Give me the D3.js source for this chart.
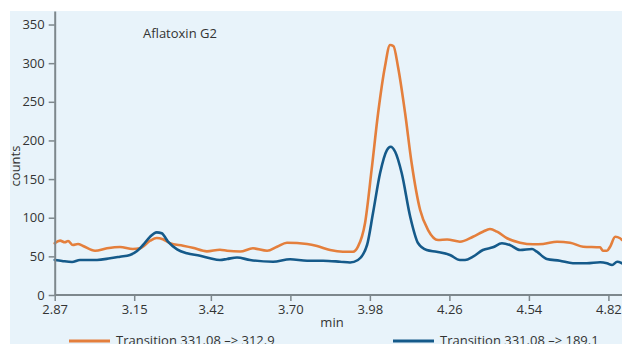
<!DOCTYPE html>
<html>
<head>
<meta charset="utf-8">
<script src="https://cdn.jsdelivr.net/npm/d3@7"></script>
<style>
  html, body { margin: 0; padding: 0; background: #ffffff; }
  svg { display: block; font-family: "Open Sans", "Noto Sans", sans-serif; }
</style>
</head>
<body>
<svg id="chart" width="622" height="344"></svg>
<script>
// Retention times (min) and intensities (counts) for each MRM transition
const timeA = [2.87, 2.889, 2.906, 2.917, 2.934, 2.952, 2.970, 3.012, 3.054, 3.100, 3.145, 3.170, 3.206, 3.229, 3.251, 3.276, 3.322, 3.356, 3.406, 3.452, 3.477, 3.523, 3.568, 3.618, 3.653, 3.688, 3.759, 3.794, 3.840, 3.885, 3.921, 3.938, 3.963, 3.986, 4.009, 4.033, 4.051, 4.063, 4.079, 4.104, 4.127, 4.157, 4.185, 4.220, 4.252, 4.297, 4.343, 4.378, 4.403, 4.428, 4.463, 4.509, 4.555, 4.590, 4.639, 4.685, 4.731, 4.791, 4.801, 4.815, 4.826, 4.844, 4.861, 4.868];
const countsA = [66.9, 70.3, 68.2, 69.9, 64.7, 66.0, 63.4, 57.3, 60.4, 62.1, 59.5, 60.4, 70.3, 73.8, 72.1, 66.9, 63.8, 61.2, 56.5, 58.6, 57.3, 56.3, 60.4, 57.3, 62.5, 67.7, 66.0, 63.4, 58.2, 56.0, 56.0, 62.5, 93.2, 161.8, 235.5, 295.4, 323.5, 322.2, 295.4, 235.5, 170.8, 110.0, 84.1, 71.2, 71.8, 69.0, 75.4, 81.9, 85.4, 81.9, 73.4, 67.7, 65.6, 66.0, 69.0, 67.7, 62.5, 61.7, 57.3, 57.3, 62.5, 75.4, 73.4, 71.2];

const timeB = [2.87, 2.896, 2.931, 2.959, 3.019, 3.065, 3.100, 3.135, 3.160, 3.181, 3.206, 3.229, 3.247, 3.269, 3.301, 3.336, 3.382, 3.417, 3.452, 3.477, 3.512, 3.558, 3.639, 3.699, 3.759, 3.815, 3.875, 3.910, 3.938, 3.970, 3.991, 4.016, 4.040, 4.053, 4.069, 4.092, 4.122, 4.150, 4.180, 4.215, 4.262, 4.297, 4.315, 4.343, 4.378, 4.413, 4.445, 4.473, 4.509, 4.551, 4.568, 4.603, 4.649, 4.695, 4.744, 4.791, 4.815, 4.833, 4.851, 4.868];
const countsB = [45.3, 44.0, 42.7, 45.3, 45.3, 47.5, 49.6, 51.8, 56.9, 64.7, 75.4, 81.1, 79.8, 69.0, 59.1, 54.0, 50.9, 47.5, 45.3, 46.6, 48.5, 45.3, 43.1, 46.2, 44.4, 44.4, 43.1, 42.1, 45.3, 64.7, 106.1, 157.9, 187.6, 191.9, 185.4, 157.9, 101.3, 66.9, 58.2, 56.0, 51.8, 45.3, 45.3, 49.6, 58.2, 61.7, 66.9, 64.7, 58.2, 59.5, 56.0, 46.6, 44.4, 41.0, 41.0, 42.3, 41.0, 38.8, 43.1, 41.0];

const seriesNames = ["Transition 331.08 \u2013> 312.9", "Transition 331.08 \u2013> 189.1"];
const seriesColors = ["#e47f3c", "#155a8a"];
const xTicks = [2.87, 3.15, 3.42, 3.70, 3.98, 4.26, 4.54, 4.82];
const yTicks = [0, 50, 100, 150, 200, 250, 300, 350];
const compound = "Aflatoxin G2";

const svg = d3.select("#chart");
const W = 622, H = 344;
const axisColor = "#7d878c";
const textColor = "#333333";

// panel background
svg.append("rect")
  .attr("x", 10).attr("y", 11)
  .attr("width", W - 10).attr("height", H - 11)
  .attr("fill", "#e8f3fa");

const x = d3.scaleLinear().domain([2.87, 4.87]).range([54.7, 622.6]);
const y = d3.scaleLinear().domain([0, 367.5]).range([295, 11]);

// traces
const line = d3.line()
  .x(d => x(d[0]))
  .y(d => y(d[1]))
  .curve(d3.curveMonotoneX);

const traces = [
  { t: timeA, v: countsA, color: seriesColors[0] },
  { t: timeB, v: countsB, color: seriesColors[1] }
];

svg.append("g").selectAll("path")
  .data(traces)
  .join("path")
  .attr("d", s => line(d3.zip(s.t, s.v)))
  .attr("fill", "none")
  .attr("stroke", s => s.color)
  .attr("stroke-width", 2.6)
  .attr("stroke-linejoin", "round")
  .attr("stroke-linecap", "round");

// x axis
const xAxis = svg.append("g")
  .attr("transform", `translate(0,${y(0)})`)
  .call(d3.axisBottom(x).tickValues(xTicks).tickFormat(d3.format(".2f")).tickSize(6).tickPadding(4).tickSizeOuter(0));
xAxis.select(".domain").attr("d", `M${x(2.87)},0H${W + 5}`);

// y axis
const yAxis = svg.append("g")
  .attr("transform", `translate(${x(2.87)},0)`)
  .call(d3.axisLeft(y).tickValues(yTicks).tickSize(6).tickPadding(4).tickSizeOuter(0));

[xAxis, yAxis].forEach(g => {
  g.select(".domain").attr("stroke", axisColor).attr("stroke-width", 2);
  g.selectAll(".tick line").attr("stroke", axisColor).attr("stroke-width", 1.5);
  g.selectAll(".tick text")
    .attr("fill", textColor)
    .style("font-size", "13px")
    .style("font-family", "'Open Sans', 'Noto Sans', sans-serif");
});

// axis titles
svg.append("text")
  .attr("x", 332).attr("y", 327)
  .attr("text-anchor", "middle")
  .attr("fill", textColor)
  .style("font-size", "13px")
  .text("min");

svg.append("text")
  .attr("transform", "translate(20,166) rotate(-90)")
  .attr("text-anchor", "middle")
  .attr("fill", textColor)
  .style("font-size", "13px")
  .text("counts");

// compound name
svg.append("text")
  .attr("x", 143).attr("y", 38)
  .attr("fill", textColor)
  .style("font-size", "13px")
  .text(compound);

// legend
const legendX = [69, 393];
const legend = svg.append("g").selectAll("g")
  .data(seriesNames)
  .join("g")
  .attr("transform", (d, i) => `translate(${legendX[i]},341)`);
legend.append("line")
  .attr("x1", 0).attr("x2", 41)
  .attr("stroke", (d, i) => seriesColors[i])
  .attr("stroke-width", 3);
legend.append("text")
  .attr("x", 47).attr("y", 4)
  .attr("fill", textColor)
  .style("font-size", "13px")
  .text(d => d);
</script>
</body>
</html>
